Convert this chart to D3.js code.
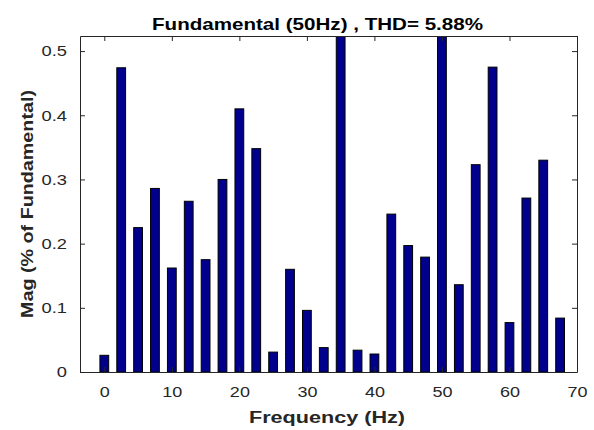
<!DOCTYPE html>
<html>
<head>
<meta charset="utf-8">
<script src="https://cdn.jsdelivr.net/npm/d3@7"></script>
<style>
  body { margin: 0; background: #fff; }
  text { font-family: "Liberation Sans", Arial, sans-serif; }
</style>
</head>
<body>
<svg id="chart" width="594" height="430"></svg>
<script>
// harmonic spectrum, every 2.5 Hz
var freqs = [0, 2.5, 5, 7.5, 10, 12.5, 15, 17.5, 20, 22.5, 25, 27.5, 30, 32.5,
             35, 37.5, 40, 42.5, 45, 47.5, 50, 52.5, 55, 57.5, 60, 62.5, 65, 67.5];
var mags = [0.026, 0.474, 0.225, 0.286, 0.162, 0.266, 0.175, 0.300, 0.410, 0.348, 0.031, 0.160, 0.096, 0.038,
            0.90, 0.034, 0.028, 0.246, 0.197, 0.179, 100, 0.136, 0.323, 0.475, 0.077, 0.271, 0.330, 0.084];
var xTicks = [0, 10, 20, 30, 40, 50, 60, 70];
var yTicks = [0, 0.1, 0.2, 0.3, 0.4, 0.5];

var margin = {top: 36, right: 17, bottom: 58, left: 80};
var width = 594 - margin.left - margin.right,
    height = 430 - margin.top - margin.bottom;
var axisColor = "#262626";

var svg = d3.select("#chart");
var g = svg.append("g")
    .attr("transform", "translate(" + margin.left + "," + margin.top + ")");

var x = d3.scaleLinear().domain([-3.6, 70]).range([0, width]);
var y = d3.scaleLinear().domain([0, 0.5235]).range([height, 0]);

var barW = x(1.3) - x(0);

g.append("clipPath").attr("id", "plotclip")
  .append("rect").attr("width", width).attr("height", height);

// bars
g.append("g").attr("clip-path", "url(#plotclip)")
  .selectAll("rect")
  .data(freqs)
  .enter()
  .append("rect")
  .attr("x", function(d) { return x(d) - barW / 2; })
  .attr("y", function(d, i) { return y(mags[i]); })
  .attr("width", barW)
  .attr("height", function(d, i) { return height - y(mags[i]); })
  .attr("fill", "#00008c")
  .attr("stroke", "#000")
  .attr("stroke-width", 1);

// the source font is drawn wider than Arial, stretch it
function stretch(sel, k) {
  sel.each(function() {
    var w = this.getComputedTextLength();
    d3.select(this).attr("textLength", w * k).attr("lengthAdjust", "spacingAndGlyphs");
  });
}

// axes (MATLAB style box with inward ticks)
function styleAxis(sel) {
  sel.selectAll("path").attr("stroke", axisColor);
  sel.selectAll("line").attr("stroke", axisColor);
  sel.selectAll("text").attr("fill", axisColor).style("font-size", "15px");
}

var xAx = g.append("g")
  .attr("transform", "translate(0," + height + ")")
  .call(d3.axisBottom(x).tickValues(xTicks).tickSizeInner(-5).tickSizeOuter(0).tickPadding(14))
  .call(styleAxis);
stretch(xAx.selectAll("text"), 1.2);

g.append("g")
  .call(d3.axisTop(x).tickValues(xTicks).tickSizeInner(-5).tickSizeOuter(0).tickFormat(""))
  .call(styleAxis);

var yAx = g.append("g")
  .call(d3.axisLeft(y).tickValues(yTicks).tickSizeInner(-5).tickSizeOuter(0).tickPadding(13)
        .tickFormat(function(d) { return d === 0 ? "0" : d3.format(".1f")(d); }))
  .call(styleAxis);
stretch(yAx.selectAll("text"), 1.22);

g.append("g")
  .attr("transform", "translate(" + width + ",0)")
  .call(d3.axisRight(y).tickValues(yTicks).tickSizeInner(-5).tickSizeOuter(0).tickFormat(""))
  .call(styleAxis);

// labels
svg.append("text")
  .attr("x", 317.5)
  .attr("y", 30)
  .attr("text-anchor", "middle")
  .style("font-size", "17px")
  .style("font-weight", "bold")
  .attr("fill", "#000")
  .attr("textLength", 331)
  .attr("lengthAdjust", "spacingAndGlyphs")
  .text("Fundamental (50Hz) , THD= 5.88%");

svg.append("text")
  .attr("x", 327)
  .attr("y", 423)
  .attr("text-anchor", "middle")
  .style("font-size", "16px")
  .style("font-weight", "bold")
  .attr("fill", axisColor)
  .attr("textLength", 156)
  .attr("lengthAdjust", "spacingAndGlyphs")
  .text("Frequency (Hz)");

svg.append("text")
  .attr("transform", "translate(33,204) rotate(-90)")
  .attr("text-anchor", "middle")
  .style("font-size", "17px")
  .style("font-weight", "bold")
  .attr("fill", axisColor)
  .attr("textLength", 228)
  .attr("lengthAdjust", "spacingAndGlyphs")
  .text("Mag (% of Fundamental)");
</script>
</body>
</html>
